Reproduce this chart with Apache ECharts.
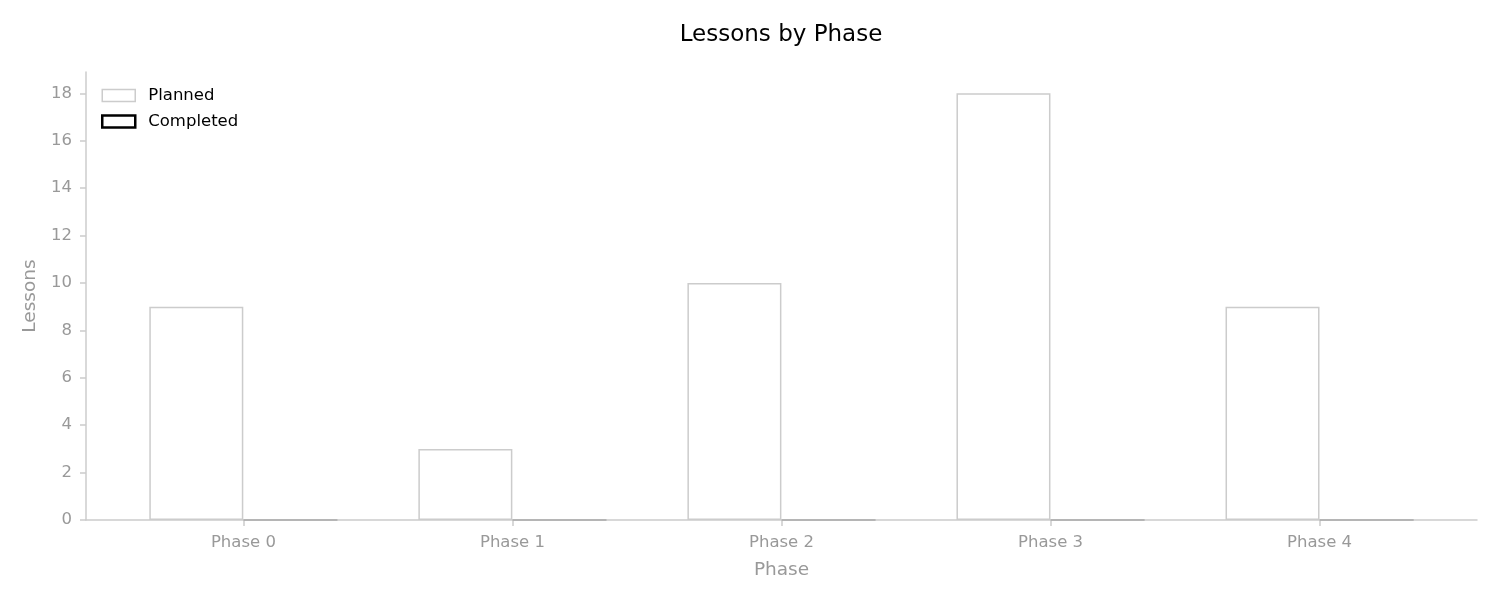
<!DOCTYPE html>
<html><head><meta charset="utf-8">
<script src="https://cdn.jsdelivr.net/npm/echarts@6/dist/echarts.min.js"></script>
<style>html,body{margin:0;padding:0;background:#fff}#c{width:1500px;height:600px}</style>
</head><body><div id="c"></div>
<script>
const categories = ['Phase 0','Phase 1','Phase 2','Phase 3','Phase 4'];
const planned = [9, 3, 10, 18, 9];
const completed = [0, 0, 0, 0, 0];
const yTicks = [0,2,4,6,8,10,12,14,16,18];
const xTicks = [0,1,2,3,4];
const off = 0.175;
const font = 'DejaVu Sans';
const chart = echarts.init(document.getElementById('c'));
chart.setOption({
  animation: false,
  title: {text: 'Lessons by Phase', left: 776, top: 19, textAlign: 'center',
    textStyle: {fontFamily: font, fontSize: 23, fontWeight: 'normal', color: '#000'}},
  legend: {orient: 'vertical', left: 96, top: 82, itemWidth: 33, itemHeight: 12, itemGap: 9,
    textStyle: {fontFamily: font, fontSize: 16.5, color: '#000', padding: [0, 0, 0, 8]},
    data: [
      {name: 'Planned', icon: 'rect', itemStyle: {color: '#fff', borderColor: '#ccc', borderWidth: 1.5}},
      {name: 'Completed', icon: 'rect', itemStyle: {color: '#fff', borderColor: '#000', borderWidth: 2.5}}
    ]},
  grid: {left: 86, right: 23, top: 72, bottom: 80},
  xAxis: {type: 'value', min: -0.585, max: 4.585,
    name: 'Phase', nameLocation: 'middle', nameGap: 41,
    nameTextStyle: {fontFamily: font, fontSize: 18.5, color: '#999'},
    axisLine: {show: true, onZero: false, lineStyle: {color: '#ccc', width: 1.5}},
    axisTick: {show: true, customValues: xTicks, length: 6, lineStyle: {color: '#ccc', width: 1.5}},
    axisLabel: {customValues: xTicks, formatter: v => categories[Math.round(v)], margin: 14,
      fontFamily: font, fontSize: 16.5, color: '#999'},
    splitLine: {show: false}},
  yAxis: {type: 'value', min: 0, max: 18.9,
    name: 'Lessons', nameLocation: 'middle', nameGap: 42,
    nameTextStyle: {fontFamily: font, fontSize: 18.5, color: '#999'},
    axisLine: {show: true, onZero: false, lineStyle: {color: '#ccc', width: 1.5}},
    axisTick: {show: true, customValues: yTicks, length: 6, lineStyle: {color: '#ccc', width: 1.5}},
    axisLabel: {customValues: yTicks, margin: 14, fontFamily: font, fontSize: 16.5, color: '#999'},
    splitLine: {show: false}},
  series: [
    {name: 'Planned', type: 'bar', barWidth: 94, barGap: '-100%',
      data: planned.map((v, i) => [i - off, v]),
      itemStyle: {color: '#fff', borderColor: '#ccc', borderWidth: 1.5}},
    {name: 'Completed', type: 'bar', barWidth: 94, barGap: '-100%',
      data: completed.map((v, i) => [i + off, v]),
      itemStyle: {color: '#fff', borderColor: '#aaa', borderWidth: 1.5}}
  ]
});
</script></body></html>
